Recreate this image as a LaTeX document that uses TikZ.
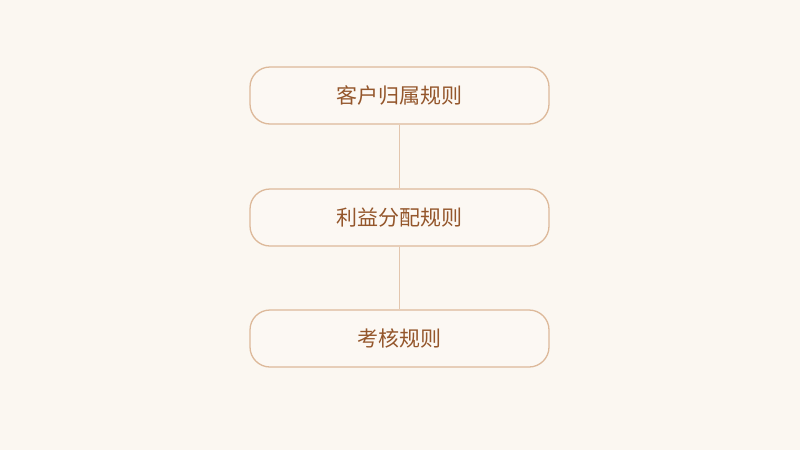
\documentclass[tikz,border=0pt]{standalone}
\usepackage{fontspec}
\newfontfamily\cjk{Noto Sans CJK SC}
\definecolor{bg}{HTML}{FBF7F1}
\definecolor{boxline}{HTML}{DDB99A}
\definecolor{boxfill}{HTML}{FCF8F3}
\definecolor{txt}{HTML}{94562B}
\definecolor{conn}{HTML}{E3C6AE}
\begin{document}
\begin{tikzpicture}[x=1pt,y=-1pt,
  rulebox/.style={draw=boxline,fill=boxfill,line width=1.3pt,rounded corners=20pt,
    minimum width=299pt,minimum height=57pt,inner sep=0pt,
    font=\cjk\fontsize{21}{25}\selectfont,text=txt},
  link/.style={draw=conn,line width=1pt}]
\fill[bg] (0,0) rectangle (800,450);
\useasboundingbox (0,0) rectangle (800,450);
\node[rulebox] (a) at (399.5,95.5) {客户归属规则};
\node[rulebox] (b) at (399.5,217.5) {利益分配规则};
\node[rulebox] (c) at (399.5,338.5) {考核规则};
\draw[link] (a) -- (b);
\draw[link] (b) -- (c);
\end{tikzpicture}
\end{document}
